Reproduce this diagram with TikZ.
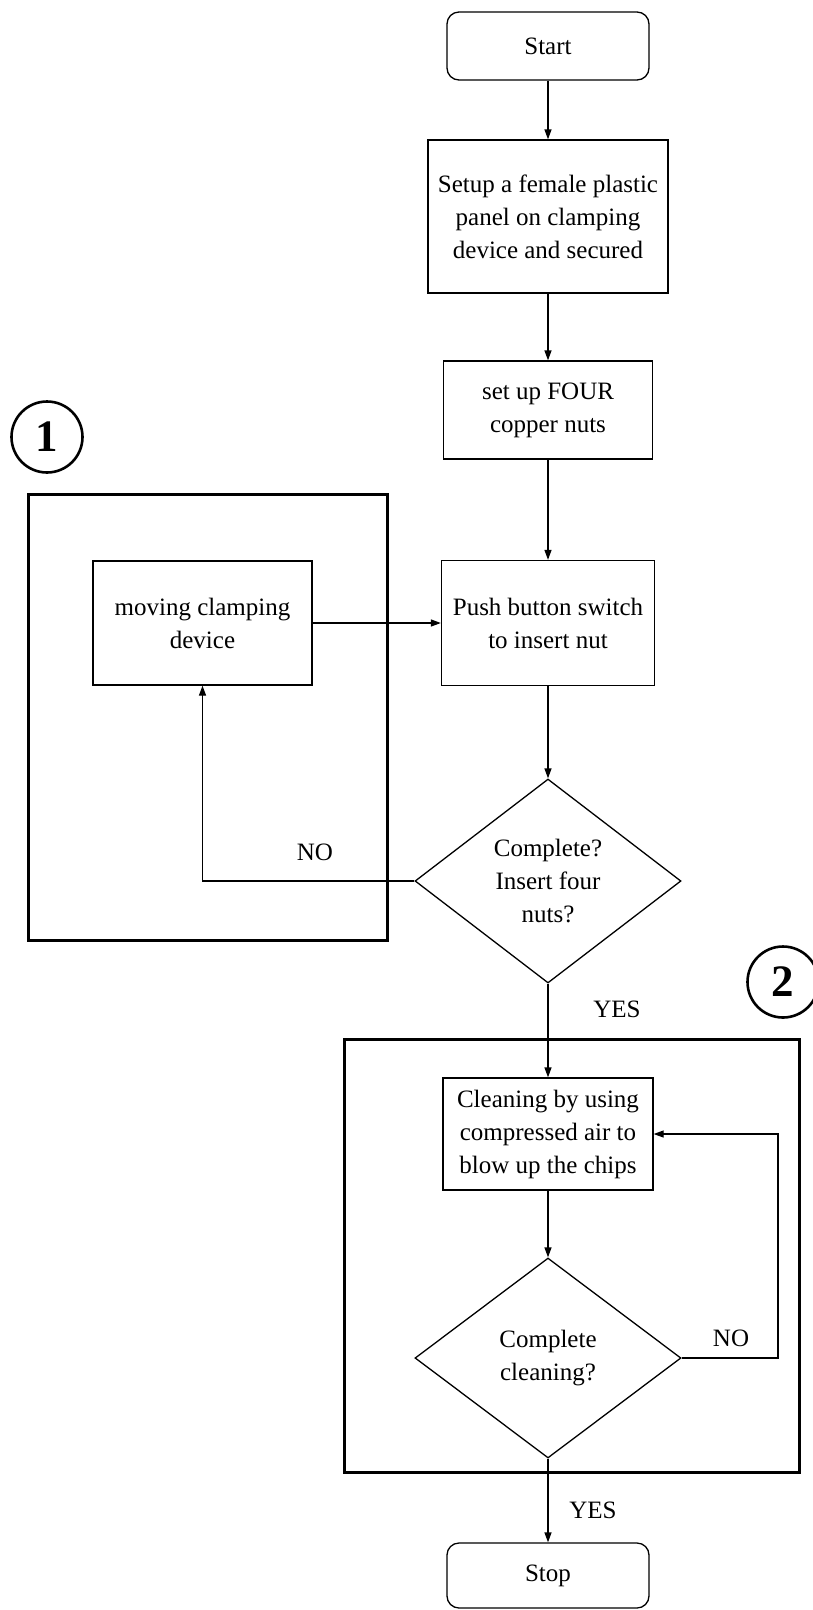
\documentclass[tikz,border=0pt]{standalone}
\usepackage{fontspec}
\setmainfont{Liberation Serif}
\usetikzlibrary{arrows.meta,shapes.geometric}
\begin{document}
\begin{tikzpicture}[x=1pt,y=-1pt,
  font=\fontsize{25}{33}\selectfont,
  thinline/.style={line width=1.3pt},
  flow/.style={thinline,-{Triangle[length=10pt,width=7pt]}},
  procbox/.style={draw,thinline,rectangle,align=center,inner sep=2pt},
  termbox/.style={procbox,rounded corners=12pt},
  decision/.style={draw,thinline,diamond,aspect=1.3,align=center,inner sep=0pt},
  groupframe/.style={draw,line width=3pt,rectangle,inner sep=0pt},
  tag/.style={draw,circle,line width=2.6pt,minimum size=71pt,inner sep=0pt,
    font=\fontsize{45}{45}\selectfont\bfseries},
  lbl/.style={inner sep=0pt}
]
\useasboundingbox[fill=white] (0,0) rectangle (812,1610);

% group frames and their numbered tags
\node[groupframe,minimum width=359pt,minimum height=446pt] (group1) at (207.5,717) {};
\node[groupframe,minimum width=455pt,minimum height=433pt] (group2) at (571.5,1255.5) {};
\node[tag] (tag1) at (47,437) {1};
\node[tag] (tag2) at (783,982) {2};

% main process column
\node[termbox,minimum width=202pt,minimum height=68pt] (start) at (548,46) {Start};
\node[procbox,minimum width=240pt,minimum height=153pt] (setup) at (548,216.5)
  {Setup a female plastic\\panel on clamping\\device and secured};
\node[procbox,minimum width=209pt,minimum height=98pt] (four) at (548,410)
  {set up FOUR\\copper nuts};
\node[procbox,minimum width=213pt,minimum height=125pt] (push) at (548,623)
  {Push button switch\\to insert nut};
\node[procbox,minimum width=219pt,minimum height=124pt] (moving) at (202.5,623)
  {moving clamping\\device};
\node[decision,minimum width=266pt,minimum height=204pt] (check1) at (548,881)
  {Complete?\\Insert four\\nuts?};
\node[procbox,minimum width=210pt,minimum height=112pt] (clean) at (548,1134)
  {Cleaning by using\\compressed air to\\blow up the chips};
\node[decision,minimum width=266pt,minimum height=200pt] (check2) at (548,1358)
  {Complete\\cleaning?};
\node[termbox,minimum width=202pt,minimum height=65pt] (stop) at (548,1575.5) {Stop};

% branch labels
\node[lbl] (no1) at (315,852) {NO};
\node[lbl] (yes1) at (617,1009) {YES};
\node[lbl] (no2) at (731,1338) {NO};
\node[lbl] (yes2) at (593,1510) {YES};

\coordinate (loopx) at (778,0);

% connectors
\draw[flow] (start) -- (setup);
\draw[flow] (setup) -- (four);
\draw[flow] (four) -- (push);
\draw[flow] (push) -- (check1);
\draw[flow] (moving) -- (push);
\draw[flow] (check1.west) -| (moving.south);
\draw[flow] (check1) -- (clean);
\draw[flow] (clean) -- (check2);
\draw[flow] (check2.east) -- (check2.east -| loopx) |- (clean.east);
\draw[flow] (check2) -- (stop);
\end{tikzpicture}
\end{document}
